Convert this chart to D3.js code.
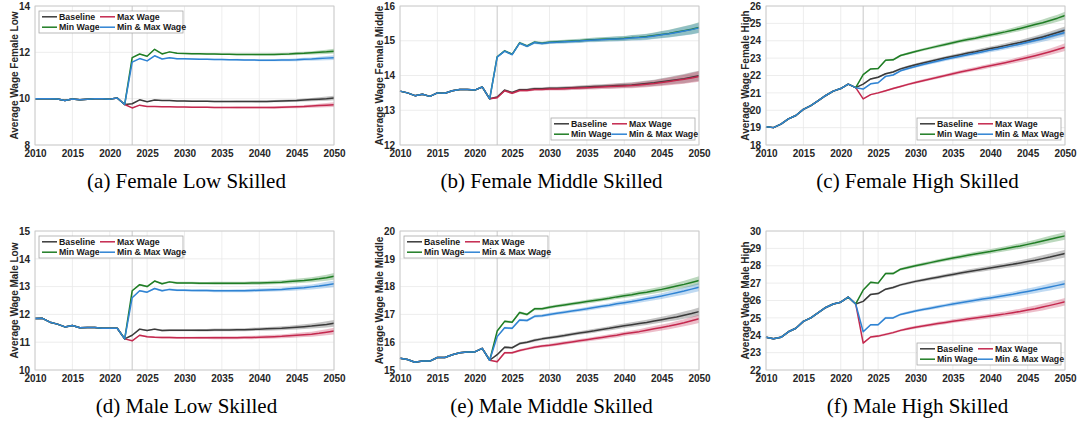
<!DOCTYPE html>
<html>
<head>
<meta charset="utf-8">
<script src="https://cdn.jsdelivr.net/npm/d3@7"></script>
<style>
  body { margin: 0; background: #fff; }
</style>
</head>
<body>
<div class="canvas"></div>
<script>
// Years and axis ticks
const histYears = d3.range(2010, 2023);
const scenYears = d3.range(2023, 2051);
const xTicks = [2010, 2015, 2020, 2025, 2030, 2035, 2040, 2045, 2050];
const seriesNames = ['Baseline', 'Max Wage', 'Min Wage', 'Min & Max Wage'];

// (a) Female Low Skilled
const femaleLowTicks = [8, 10, 12, 14];
const femaleLowHist = [10.00, 10.00, 10.00, 9.99, 9.92, 9.99, 9.95, 9.98, 10.00, 10.00, 9.98, 10.03, 9.75];
const femaleLowBase = [9.78, 9.95, 9.87, 9.94, 9.92, 9.92, 9.90,
  9.90, 9.89, 9.89, 9.89, 9.88, 9.88, 9.88, 9.88, 9.88, 9.88,
  9.88, 9.88, 9.89, 9.90, 9.91, 9.92, 9.94, 9.96, 9.98, 10.00, 10.03];
const femaleLowMax = [9.60, 9.72, 9.66, 9.66, 9.65, 9.65, 9.64,
  9.64, 9.63, 9.63, 9.63, 9.62, 9.62, 9.62, 9.62, 9.62, 9.62,
  9.62, 9.62, 9.62, 9.63, 9.64, 9.65, 9.66, 9.68, 9.70, 9.72, 9.74];
const femaleLowMin = [11.77, 11.93, 11.83, 12.13, 11.93, 12.02, 11.96,
  11.95, 11.94, 11.94, 11.93, 11.93, 11.92, 11.92, 11.91, 11.91, 11.91,
  11.91, 11.91, 11.91, 11.92, 11.93, 11.95, 11.96, 11.98, 12.00, 12.02, 12.05];
const femaleLowMinMax = [11.58, 11.73, 11.63, 11.85, 11.71, 11.77, 11.72,
  11.72, 11.71, 11.70, 11.70, 11.69, 11.69, 11.68, 11.68, 11.67, 11.67,
  11.66, 11.66, 11.66, 11.67, 11.67, 11.68, 11.70, 11.71, 11.73, 11.75, 11.77];
const femaleLowBand = [0.01, 0.015, 0.015, 0.02, 0.02, 0.02, 0.025,
  0.025, 0.03, 0.03, 0.03, 0.035, 0.035, 0.035, 0.04, 0.04, 0.04,
  0.045, 0.045, 0.05, 0.05, 0.055, 0.06, 0.065, 0.07, 0.08, 0.09, 0.10];

// (b) Female Middle Skilled
const femaleMidTicks = [12, 13, 14, 15, 16];
const femaleMidHist = [13.55, 13.50, 13.42, 13.46, 13.40, 13.50, 13.49, 13.56, 13.60, 13.60, 13.58, 13.67, 13.33];
const femaleMidBase = [13.38, 13.58, 13.51, 13.59, 13.59, 13.62, 13.62,
  13.63, 13.63, 13.64, 13.65, 13.66, 13.67, 13.68, 13.69, 13.70, 13.71,
  13.72, 13.73, 13.75, 13.77, 13.79, 13.82, 13.85, 13.88, 13.91, 13.95, 13.99];
const femaleMidMax = [13.36, 13.56, 13.49, 13.57, 13.57, 13.60, 13.60,
  13.61, 13.61, 13.62, 13.63, 13.64, 13.65, 13.66, 13.67, 13.68, 13.69,
  13.70, 13.71, 13.73, 13.75, 13.77, 13.80, 13.83, 13.86, 13.89, 13.93, 13.97];
const femaleMidMin = [14.54, 14.71, 14.61, 14.94, 14.85, 14.96, 14.93,
  14.96, 14.97, 14.98, 14.99, 15.00, 15.02, 15.03, 15.04, 15.05, 15.06,
  15.07, 15.09, 15.10, 15.12, 15.15, 15.18, 15.21, 15.25, 15.29, 15.33, 15.38];
const femaleMidMinMax = [14.53, 14.70, 14.60, 14.93, 14.84, 14.95, 14.92,
  14.95, 14.96, 14.97, 14.98, 14.99, 15.01, 15.02, 15.03, 15.04, 15.05,
  15.06, 15.08, 15.09, 15.11, 15.14, 15.17, 15.20, 15.24, 15.28, 15.32, 15.37];
const femaleMidBand = [0.02, 0.03, 0.03, 0.035, 0.035, 0.04, 0.04,
  0.045, 0.045, 0.05, 0.05, 0.055, 0.055, 0.06, 0.06, 0.065, 0.07,
  0.07, 0.075, 0.08, 0.085, 0.09, 0.10, 0.11, 0.12, 0.13, 0.14, 0.15];

// (c) Female High Skilled
const femaleHighTicks = [18, 19, 20, 21, 22, 23, 24, 25, 26];
const femaleHighHist = [19.05, 19.00, 19.20, 19.50, 19.70, 20.05, 20.27, 20.55, 20.85, 21.10, 21.25, 21.50, 21.30];
const femaleHighBase = [21.50, 21.80, 21.90, 22.10, 22.20, 22.38, 22.50,
  22.62, 22.72, 22.82, 22.92, 23.02, 23.11, 23.20, 23.29, 23.37, 23.46,
  23.55, 23.63, 23.72, 23.81, 23.90, 24.00, 24.11, 24.22, 24.34, 24.47, 24.60];
const femaleHighMax = [20.65, 20.90, 21.00, 21.12, 21.25, 21.37, 21.49,
  21.60, 21.70, 21.80, 21.90, 22.00, 22.10, 22.20, 22.29, 22.38, 22.47,
  22.56, 22.65, 22.74, 22.83, 22.93, 23.03, 23.14, 23.25, 23.37, 23.50, 23.63];
const femaleHighMin = [22.05, 22.38, 22.40, 22.88, 22.90, 23.15, 23.27,
  23.38, 23.49, 23.59, 23.69, 23.79, 23.89, 23.98, 24.07, 24.15, 24.24,
  24.33, 24.42, 24.51, 24.61, 24.71, 24.82, 24.93, 25.04, 25.17, 25.30, 25.45];
const femaleHighMinMax = [21.22, 21.52, 21.58, 21.95, 22.03, 22.27, 22.40,
  22.52, 22.63, 22.73, 22.83, 22.93, 23.02, 23.11, 23.20, 23.28, 23.37,
  23.46, 23.54, 23.63, 23.72, 23.81, 23.91, 24.01, 24.12, 24.24, 24.36, 24.48];
const femaleHighBand = [0.03, 0.04, 0.05, 0.05, 0.06, 0.06, 0.07,
  0.07, 0.08, 0.08, 0.09, 0.09, 0.10, 0.10, 0.11, 0.11, 0.12,
  0.12, 0.13, 0.13, 0.14, 0.15, 0.16, 0.17, 0.18, 0.19, 0.20, 0.22];

// (d) Male Low Skilled
const maleLowTicks = [10, 11, 12, 13, 14, 15];
const maleLowHist = [11.85, 11.86, 11.72, 11.65, 11.55, 11.60, 11.52, 11.53, 11.53, 11.50, 11.50, 11.50, 11.12];
const maleLowBase = [11.25, 11.47, 11.42, 11.47, 11.42, 11.43, 11.43,
  11.43, 11.43, 11.43, 11.43, 11.44, 11.44, 11.44, 11.45, 11.45, 11.46,
  11.47, 11.48, 11.49, 11.50, 11.52, 11.54, 11.56, 11.58, 11.61, 11.64, 11.68];
const maleLowMax = [11.05, 11.25, 11.20, 11.18, 11.17, 11.17, 11.16,
  11.16, 11.16, 11.16, 11.16, 11.16, 11.16, 11.16, 11.16, 11.17, 11.17,
  11.18, 11.19, 11.20, 11.21, 11.23, 11.25, 11.27, 11.29, 11.32, 11.36, 11.40];
const maleLowMin = [12.85, 13.07, 13.00, 13.20, 13.10, 13.17, 13.13,
  13.13, 13.13, 13.12, 13.12, 13.12, 13.12, 13.12, 13.12, 13.12, 13.13,
  13.13, 13.14, 13.15, 13.16, 13.18, 13.20, 13.22, 13.25, 13.28, 13.32, 13.37];
const maleLowMinMax = [12.60, 12.85, 12.80, 12.93, 12.85, 12.90, 12.87,
  12.87, 12.86, 12.86, 12.86, 12.85, 12.85, 12.85, 12.85, 12.85, 12.86,
  12.87, 12.88, 12.89, 12.90, 12.92, 12.94, 12.96, 12.99, 13.02, 13.06, 13.10];
const maleLowBand = [0.02, 0.03, 0.03, 0.03, 0.035, 0.035, 0.04,
  0.04, 0.04, 0.045, 0.045, 0.05, 0.05, 0.05, 0.055, 0.055, 0.06,
  0.06, 0.065, 0.065, 0.07, 0.075, 0.08, 0.085, 0.09, 0.10, 0.11, 0.12];

// (e) Male Middle Skilled
const maleMidTicks = [15, 16, 17, 18, 19, 20];
const maleMidHist = [15.42, 15.38, 15.28, 15.32, 15.32, 15.45, 15.45, 15.55, 15.62, 15.65, 15.65, 15.78, 15.35];
const maleMidBase = [15.55, 15.82, 15.80, 15.95, 16.00, 16.07, 16.12,
  16.16, 16.20, 16.24, 16.29, 16.33, 16.37, 16.41, 16.46, 16.50, 16.55,
  16.59, 16.63, 16.67, 16.71, 16.76, 16.81, 16.86, 16.91, 16.97, 17.03, 17.10];
const maleMidMax = [15.30, 15.62, 15.62, 15.70, 15.76, 15.82, 15.86,
  15.89, 15.93, 15.97, 16.01, 16.05, 16.09, 16.13, 16.17, 16.21, 16.25,
  16.30, 16.34, 16.38, 16.43, 16.48, 16.53, 16.58, 16.64, 16.70, 16.77, 16.84];
const maleMidMin = [16.40, 16.75, 16.72, 17.07, 17.00, 17.20, 17.20,
  17.26, 17.30, 17.34, 17.38, 17.42, 17.46, 17.50, 17.54, 17.58, 17.63,
  17.67, 17.71, 17.76, 17.80, 17.85, 17.90, 17.96, 18.02, 18.08, 18.15, 18.22];
const maleMidMinMax = [16.20, 16.52, 16.50, 16.80, 16.78, 16.93, 16.95,
  17.00, 17.04, 17.08, 17.12, 17.16, 17.20, 17.25, 17.29, 17.33, 17.38,
  17.42, 17.46, 17.51, 17.56, 17.61, 17.66, 17.72, 17.78, 17.84, 17.91, 17.98];
const maleMidBand = [0.03, 0.04, 0.04, 0.045, 0.045, 0.05, 0.05,
  0.055, 0.055, 0.06, 0.06, 0.065, 0.065, 0.07, 0.07, 0.075, 0.08,
  0.08, 0.085, 0.09, 0.095, 0.10, 0.105, 0.11, 0.12, 0.13, 0.14, 0.15];

// (f) Male High Skilled
const maleHighTicks = [22, 23, 24, 25, 26, 27, 28, 29, 30];
const maleHighHist = [23.88, 23.80, 23.88, 24.20, 24.40, 24.80, 25.00, 25.30, 25.60, 25.80, 25.90, 26.20, 25.80];
const maleHighBase = [25.95, 26.35, 26.40, 26.65, 26.75, 26.90, 27.00,
  27.10, 27.18, 27.26, 27.34, 27.42, 27.50, 27.58, 27.66, 27.73, 27.80,
  27.87, 27.94, 28.01, 28.08, 28.16, 28.24, 28.32, 28.41, 28.50, 28.60, 28.70];
const maleHighMax = [23.55, 23.90, 23.95, 24.05, 24.15, 24.28, 24.38,
  24.46, 24.53, 24.60, 24.67, 24.74, 24.81, 24.87, 24.93, 24.99, 25.05,
  25.11, 25.17, 25.23, 25.30, 25.37, 25.45, 25.53, 25.62, 25.72, 25.82, 25.93];
const maleHighMin = [26.60, 27.05, 27.00, 27.55, 27.55, 27.80, 27.90,
  28.00, 28.09, 28.18, 28.27, 28.36, 28.44, 28.52, 28.60, 28.68, 28.75,
  28.82, 28.90, 28.98, 29.06, 29.14, 29.23, 29.32, 29.42, 29.52, 29.62, 29.72];
const maleHighMinMax = [24.20, 24.60, 24.60, 25.00, 25.00, 25.20, 25.30,
  25.40, 25.48, 25.56, 25.64, 25.72, 25.80, 25.87, 25.94, 26.01, 26.08,
  26.15, 26.22, 26.29, 26.36, 26.44, 26.52, 26.60, 26.69, 26.78, 26.87, 26.96];
const maleHighBand = [0.04, 0.05, 0.06, 0.06, 0.07, 0.07, 0.08,
  0.08, 0.09, 0.09, 0.10, 0.10, 0.11, 0.11, 0.12, 0.12, 0.13,
  0.13, 0.14, 0.14, 0.15, 0.16, 0.17, 0.18, 0.19, 0.20, 0.21, 0.22];

const colors = ['#3a3a3a', '#c4284e', '#1f7d24', '#2f83d3'];

const panels = [
  {caption: '(a) Female Low Skilled', ylab: 'Average Wage Female Low', ticks: femaleLowTicks,
   hist: femaleLowHist, series: [femaleLowBase, femaleLowMax, femaleLowMin, femaleLowMinMax], band: femaleLowBand,
   left: 35, top: 6, legend: 'tl'},
  {caption: '(b) Female Middle Skilled', ylab: 'Average Wage Female Middle', ticks: femaleMidTicks,
   hist: femaleMidHist, series: [femaleMidBase, femaleMidMax, femaleMidMin, femaleMidMinMax], band: femaleMidBand,
   left: 400, top: 6, legend: 'br'},
  {caption: '(c) Female High Skilled', ylab: 'Average Wage Female High', ticks: femaleHighTicks,
   hist: femaleHighHist, series: [femaleHighBase, femaleHighMax, femaleHighMin, femaleHighMinMax], band: femaleHighBand,
   left: 766, top: 6, legend: 'br'},
  {caption: '(d) Male Low Skilled', ylab: 'Average Wage Male Low', ticks: maleLowTicks,
   hist: maleLowHist, series: [maleLowBase, maleLowMax, maleLowMin, maleLowMinMax], band: maleLowBand,
   left: 35, top: 231, legend: 'tl'},
  {caption: '(e) Male Middle Skilled', ylab: 'Average Wage Male Middle', ticks: maleMidTicks,
   hist: maleMidHist, series: [maleMidBase, maleMidMax, maleMidMin, maleMidMinMax], band: maleMidBand,
   left: 400, top: 231, legend: 'tl'},
  {caption: '(f) Male High Skilled', ylab: 'Average Wage Male High', ticks: maleHighTicks,
   hist: maleHighHist, series: [maleHighBase, maleHighMax, maleHighMin, maleHighMinMax], band: maleHighBand,
   left: 766, top: 231, legend: 'br'}
];

const svg = d3.select('.canvas')
              .append('svg')
              .attr('width', 1078)
              .attr('height', 436);

const plotW = 299;
const plotH = 139;
const tickFont = 'Liberation Sans, Arial, sans-serif';

panels.forEach(p => {
    const g = svg.append('g')
                 .attr('transform', `translate(${p.left}, ${p.top})`);

    const x = d3.scaleLinear()
                .domain([2010, 2050])
                .range([0, plotW]);
    const y = d3.scaleLinear()
                .domain(d3.extent(p.ticks))
                .range([plotH, 0]);

    // grid lines
    g.append('g')
     .selectAll('line.gx')
     .data(xTicks)
     .enter().append('line')
     .attr('x1', d => x(d)).attr('x2', d => x(d))
     .attr('y1', 0).attr('y2', plotH)
     .attr('stroke', '#e8e8e8').attr('stroke-width', 0.8);
    g.append('g')
     .selectAll('line.gy')
     .data(p.ticks)
     .enter().append('line')
     .attr('x1', 0).attr('x2', plotW)
     .attr('y1', d => y(d)).attr('y2', d => y(d))
     .attr('stroke', '#e8e8e8').attr('stroke-width', 0.8);

    // policy start marker
    g.append('line')
     .attr('x1', x(2023)).attr('x2', x(2023))
     .attr('y1', 0).attr('y2', plotH)
     .attr('stroke', '#c8c8c8').attr('stroke-width', 1);

    // confidence bands, starting from the last observed year
    const bandYears = [2022].concat(scenYears);
    p.series.forEach((s, i) => {
        const pts = bandYears.map((yr, k) => {
            const v = k === 0 ? p.hist[p.hist.length - 1] : s[k - 1];
            const w = k === 0 ? 0 : p.band[k - 1];
            return {yr, lo: v - w, hi: v + w};
        });
        g.append('path')
         .datum(pts)
         .attr('fill', colors[i])
         .attr('fill-opacity', 0.3)
         .attr('d', d3.area().x(d => x(d.yr)).y0(d => y(d.lo)).y1(d => y(d.hi)));
    });

    // lines: history + scenario
    const years = histYears.concat(scenYears);
    p.series.forEach((s, i) => {
        const vals = p.hist.concat(s);
        g.append('path')
         .datum(years.map((yr, k) => [yr, vals[k]]))
         .attr('fill', 'none')
         .attr('stroke', colors[i])
         .attr('stroke-width', 1.5)
         .attr('stroke-linejoin', 'round')
         .attr('d', d3.line().x(d => x(d[0])).y(d => y(d[1])));
    });

    // axes box
    g.append('rect')
     .attr('width', plotW).attr('height', plotH)
     .attr('fill', 'none')
     .attr('stroke', '#c4c4c4').attr('stroke-width', 0.8);

    const xAxis = d3.axisBottom(x).tickValues(xTicks).tickFormat(d3.format('d')).tickSize(0).tickPadding(5);
    const yAxis = d3.axisLeft(y).tickValues(p.ticks).tickFormat(d3.format('d')).tickSize(0).tickPadding(5);

    const xg = g.append('g').attr('transform', `translate(0, ${plotH})`).call(xAxis);
    const yg = g.append('g').call(yAxis);
    [xg, yg].forEach(a => {
        a.select('.domain').remove();
        a.selectAll('text')
         .attr('fill', '#262626')
         .style('font-family', tickFont)
         .style('font-size', '10px')
         .style('font-weight', 'bold');
    });

    g.append('text')
     .attr('transform', `translate(-21, ${plotH / 2}) rotate(-90)`)
     .attr('text-anchor', 'middle')
     .attr('dy', '0.35em')
     .attr('fill', '#262626')
     .style('font-family', tickFont)
     .style('font-size', '10px')
     .style('font-weight', 'bold')
     .text(p.ylab);

    // legend
    const lw = 144, lh = 22;
    const lx = p.legend === 'tl' ? 4 : plotW - lw - 4;
    const ly = p.legend === 'tl' ? 5 : plotH - lh - 5;
    const lg = g.append('g').attr('transform', `translate(${lx}, ${ly})`);
    lg.append('rect')
      .attr('width', lw).attr('height', lh)
      .attr('fill', '#fff')
      .attr('stroke', '#a8a8a8').attr('stroke-width', 0.8);
    seriesNames.forEach((name, i) => {
        const cx = i % 2 === 0 ? 3 : 61;
        const cy = i < 2 ? 5.8 : 16.2;
        lg.append('line')
          .attr('x1', cx).attr('x2', cx + 15)
          .attr('y1', cy).attr('y2', cy)
          .attr('stroke', colors[i]).attr('stroke-width', 1.5);
        lg.append('text')
          .attr('x', cx + 17).attr('y', cy)
          .attr('dy', '0.35em')
          .attr('fill', '#1a1a1a')
          .style('font-family', tickFont)
          .style('font-size', '8.8px')
          .style('font-weight', 'bold')
          .text(name);
    });

    // caption under the panel
    svg.append('text')
       .attr('x', p.left + plotW / 2 + 2)
       .attr('y', p.top + 182)
       .attr('text-anchor', 'middle')
       .attr('fill', '#000')
       .style('font-family', 'Liberation Serif, Times New Roman, serif')
       .style('font-size', '21px')
       .text(p.caption);
});
</script>
</body>
</html>
